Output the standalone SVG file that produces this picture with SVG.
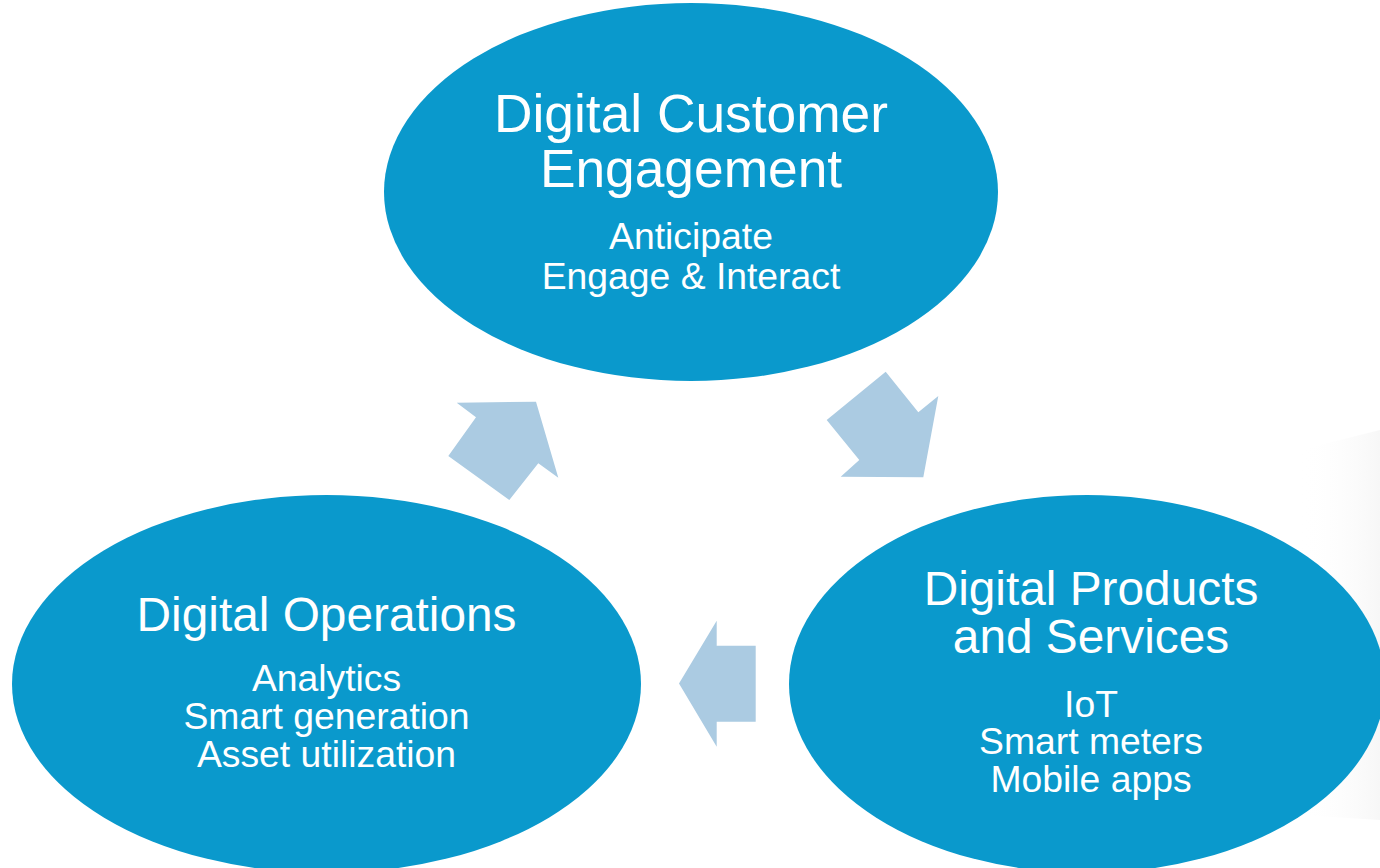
<svg xmlns="http://www.w3.org/2000/svg" width="1380" height="868" viewBox="0 0 1380 868">
  <defs>
    <linearGradient id="shade" x1="0" y1="0" x2="1" y2="0">
      <stop offset="0" stop-color="#ffffff" stop-opacity="0"/>
      <stop offset="1" stop-color="#f7f7f7" stop-opacity="1"/>
    </linearGradient>
    <style>
      .node { fill: #0A99CC; }
      .arrow { fill: #ABCBE2; }
      text { font-family: "Liberation Sans", Arial, sans-serif; fill: #ffffff; text-anchor: middle; }
      .title { font-size: 47.8px; }
      .title-lg { font-size: 53.3px; }
      .sub { font-size: 37.3px; }
    </style>
  </defs>
  <rect width="1380" height="868" fill="#ffffff"/>
  <polygon points="1300,450 1380,430 1380,820 1300,815" fill="url(#shade)"/>

  <g id="connectors">
    <polygon class="arrow" points="456.7,402.7 536,401.7 558.3,477.7 538.3,463.3 509.3,500 448.3,456 476,417.3"/>
    <polygon class="arrow" points="885.7,371.7 918.3,412.3 938.3,396 923.3,477.3 840.7,476.7 859.3,460 826.7,420"/>
    <polygon class="arrow" points="679,683.5 716.7,620.7 716.7,645.7 755.7,645.7 755.7,721.7 716.7,721.7 716.7,746.7"/>
  </g>

  <g id="node-customer">
    <ellipse class="node" cx="691" cy="192" rx="307" ry="189"/>
    <text class="title-lg" x="691" y="132">Digital Customer</text>
    <text class="title-lg" x="691" y="187">Engagement</text>
    <text class="sub" x="691" y="249">Anticipate</text>
    <text class="sub" x="691" y="289">Engage &amp; Interact</text>
  </g>

  <g id="node-operations">
    <ellipse class="node" cx="326.5" cy="684" rx="314.5" ry="189"/>
    <text class="title" x="326.5" y="631">Digital Operations</text>
    <text class="sub" x="326.5" y="691">Analytics</text>
    <text class="sub" x="326.5" y="729">Smart generation</text>
    <text class="sub" x="326.5" y="767">Asset utilization</text>
  </g>

  <g id="node-products">
    <ellipse class="node" cx="1087" cy="684" rx="298" ry="189"/>
    <text class="title" x="1091" y="605">Digital Products</text>
    <text class="title" x="1091" y="653">and Services</text>
    <text class="sub" x="1091" y="717">IoT</text>
    <text class="sub" x="1091" y="754">Smart meters</text>
    <text class="sub" x="1091" y="792">Mobile apps</text>
  </g>
</svg>
